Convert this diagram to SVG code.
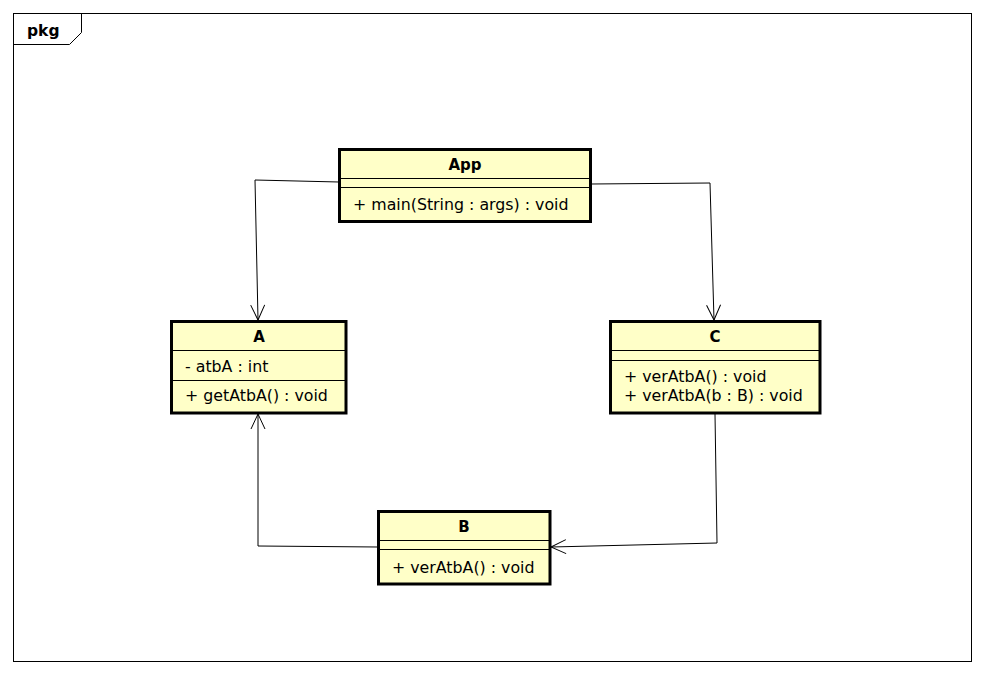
<svg xmlns="http://www.w3.org/2000/svg" width="984" height="674" viewBox="0 0 984 674">
  <style>
    .frame { fill: none; stroke: #000; stroke-width: 1; }
    .box { fill: #ffffc8; stroke: #000; stroke-width: 3; }
    .sep { stroke: #000; stroke-width: 1; }
    .title { font-family: "DejaVu Sans", sans-serif; font-size: 15px; font-weight: bold; text-anchor: middle; fill: #000; }
    .member { font-family: "DejaVu Sans", sans-serif; font-size: 15.8px; fill: #000; }
    .link { fill: none; stroke: #000; stroke-width: 1; }
  </style>
  <defs>
    <marker id="open" markerWidth="20" markerHeight="20" refX="16" refY="8" orient="auto" markerUnits="userSpaceOnUse">
      <path d="M1,1 L16,8 L1,15" fill="none" stroke="#000" stroke-width="1"/>
    </marker>
  </defs>

  <rect width="984" height="674" fill="#fff"/>

  <!-- package frame -->
  <g id="pkg">
    <rect class="frame" x="13.5" y="13.5" width="958" height="648"/>
    <path class="frame" d="M13.5,44.5 H69.5 L81.5,32.5 V13.5"/>
    <text x="27" y="36" font-family="DejaVu Sans, sans-serif" font-size="15.5" font-weight="bold">pkg</text>
  </g>

  <!-- connectors -->
  <g id="connectors">
    <path class="link" d="M339,182 L255,180 L258,320" marker-end="url(#open)"/>
    <path class="link" d="M591,184 L710,183 L714,320" marker-end="url(#open)"/>
    <path class="link" d="M715,414 L717,543 L551,547" marker-end="url(#open)"/>
    <path class="link" d="M378,547 L258,546 L258,414" marker-end="url(#open)"/>
  </g>

  <g id="App">
    <rect class="box" x="339.5" y="149.5" width="251" height="72"/>
    <line class="sep" x1="339.5" y1="178.5" x2="590.5" y2="178.5"/>
    <line class="sep" x1="339.5" y1="187.5" x2="590.5" y2="187.5"/>
    <text class="title" x="465" y="170">App</text>
    <text class="member" x="353" y="210">+ main(String : args) : void</text>
  </g>

  <g id="A">
    <rect class="box" x="171.5" y="321.5" width="174.5" height="91.5"/>
    <line class="sep" x1="171.5" y1="350.5" x2="346" y2="350.5"/>
    <line class="sep" x1="171.5" y1="380.5" x2="346" y2="380.5"/>
    <text class="title" x="259" y="342">A</text>
    <text class="member" x="185" y="372">- atbA : int</text>
    <text class="member" x="185" y="401">+ getAtbA() : void</text>
  </g>

  <g id="C">
    <rect class="box" x="610.5" y="321.5" width="209.5" height="91.5"/>
    <line class="sep" x1="610.5" y1="350.5" x2="820" y2="350.5"/>
    <line class="sep" x1="610.5" y1="360.5" x2="820" y2="360.5"/>
    <text class="title" x="715" y="342">C</text>
    <text class="member" x="624" y="382">+ verAtbA() : void</text>
    <text class="member" x="624" y="401">+ verAtbA(b : B) : void</text>
  </g>

  <g id="B">
    <rect class="box" x="378.5" y="511.5" width="171.5" height="72.5"/>
    <line class="sep" x1="378.5" y1="540.5" x2="550" y2="540.5"/>
    <line class="sep" x1="378.5" y1="549.5" x2="550" y2="549.5"/>
    <text class="title" x="464" y="532">B</text>
    <text class="member" x="392" y="573">+ verAtbA() : void</text>
  </g>
</svg>
